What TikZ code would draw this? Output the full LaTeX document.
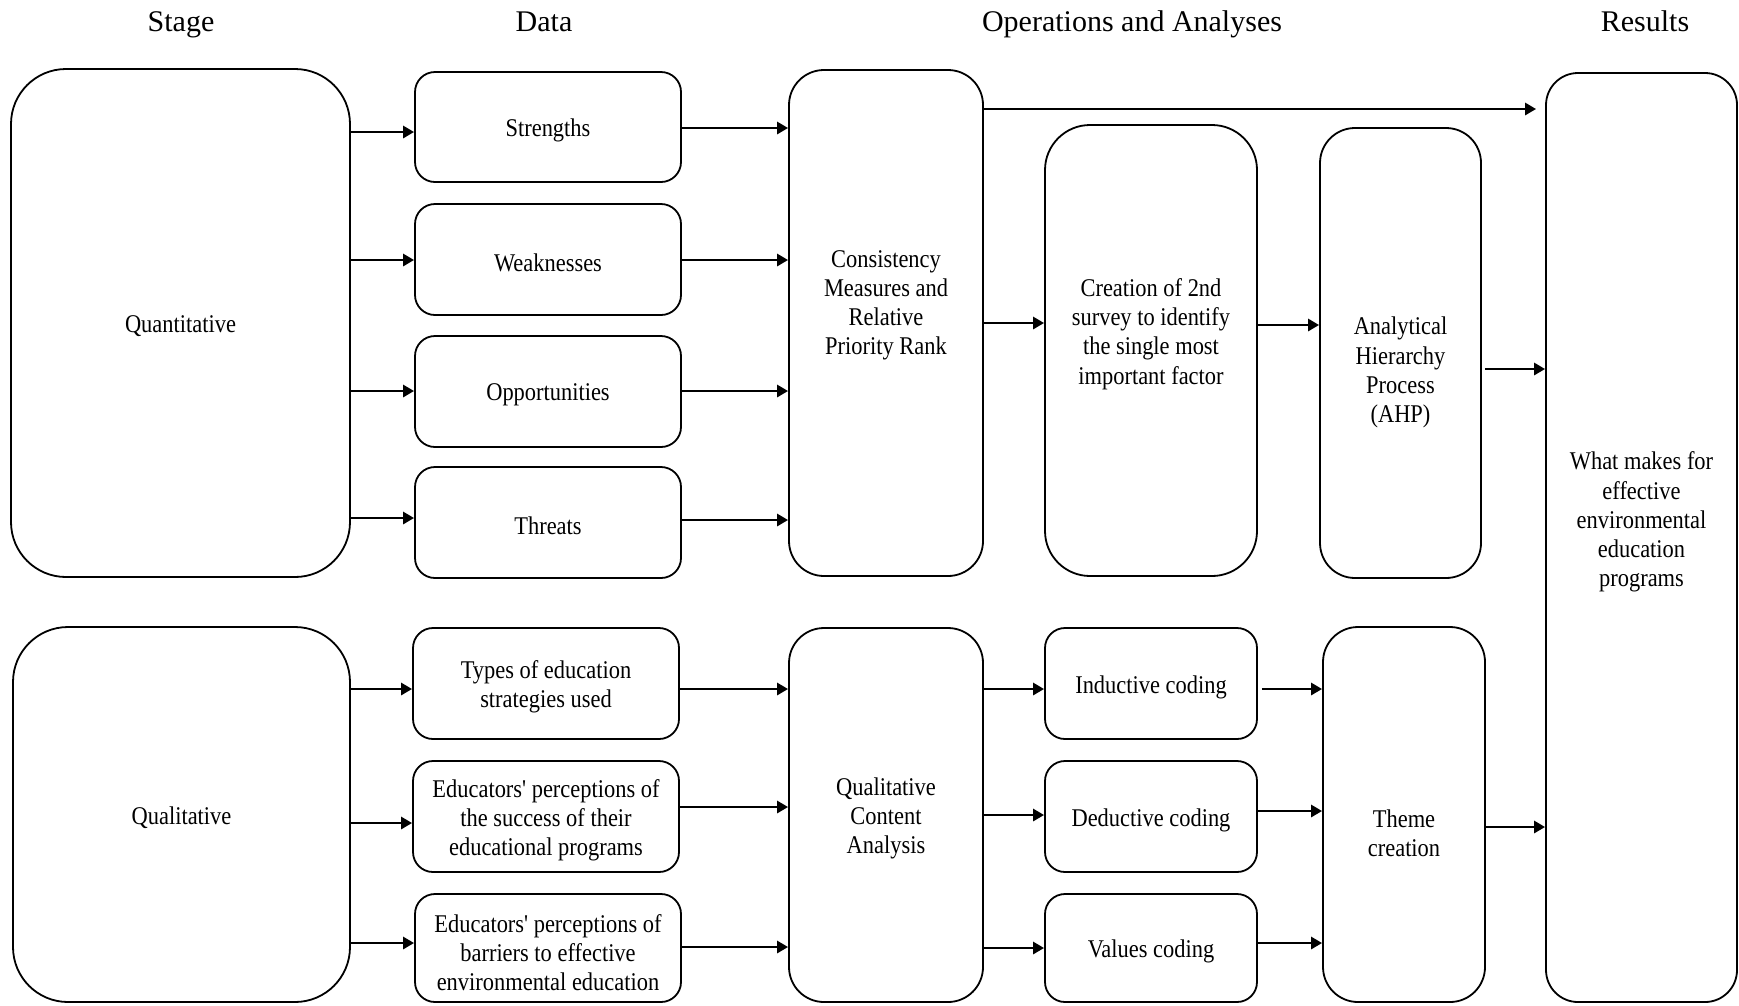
\documentclass[tikz,border=0pt]{standalone}
\usepackage{fontspec}
\setmainfont{Liberation Serif}
\newfontfamily\bodyfont{Liberation Serif}[FakeStretch=0.88]
\usetikzlibrary{arrows.meta}

\tikzset{
  rbox/.style={draw, line width=1.8pt, rounded corners=#1, inner sep=0pt},
  lbl/.style={font=\bodyfont\fontsize{25.5}{29.2}\selectfont, align=center, inner sep=0pt, yshift=-3.5pt},
  head/.style={font=\fontsize{30}{34}\selectfont, anchor=base, inner sep=0pt},
  flow/.style={line width=2.8pt, -{Triangle[length=11pt, width=12pt]}},
}

\begin{document}
\begin{tikzpicture}[x=1pt, y=-1pt]
\useasboundingbox (0,0) rectangle (1739,1005);

% column headings
\node[head] (hstage) at (181,31.5) {Stage};
\node[head] (hdata)  at (544,31.5) {Data};
\node[head] (hops)   at (1132,31.5) {Operations and Analyses};
\node[head] (hres)   at (1645,31.5) {Results};

% stage boxes
\node[rbox=55pt, minimum width=339pt, minimum height=508pt] (quant) at (180.5,323) {};
\node[lbl] at (quant.center) {Quantitative};
\node[rbox=55pt, minimum width=337pt, minimum height=375pt] (qual) at (181.5,814.5) {};
\node[lbl] at (qual.center) {Qualitative};

% quantitative data
\node[rbox=20pt, minimum width=266pt, minimum height=110pt] (str)  at (548,127)   {};
\node[lbl] at (str.center) {Strengths};
\node[rbox=20pt, minimum width=266pt, minimum height=111pt] (weak) at (548,259.5) {};
\node[lbl] at (weak.center) {Weaknesses};
\node[rbox=20pt, minimum width=266pt, minimum height=111pt] (opp)  at (548,391.5) {};
\node[lbl] at (opp.center) {Opportunities};
\node[rbox=20pt, minimum width=266pt, minimum height=111pt] (thr)  at (548,522.5) {};
\node[lbl] at (thr.center) {Threats};

% qualitative data
\node[rbox=20pt, minimum width=266pt, minimum height=111pt] (types) at (546,683.5) {};
\node[lbl] at (types.center) {Types of education\\strategies used};
\node[rbox=20pt, minimum width=266pt, minimum height=111pt] (succ)  at (546,816.5) {};
\node[lbl] at (succ.center) {Educators' perceptions of\\the success of their\\educational programs};
\node[rbox=20pt, minimum width=266pt, minimum height=108pt] (barr)  at (548,948) {};
\node[lbl] at ([yshift=-1pt]barr.center) {Educators' perceptions of\\barriers to effective\\environmental education};

% operations and analyses, quantitative branch
\node[rbox=35pt, minimum width=194pt, minimum height=506pt] (cons) at (886,323) {};
\node[lbl] at ([yshift=21pt]cons.center) {Consistency\\Measures and\\Relative\\Priority Rank};
\node[rbox=45pt, minimum width=212pt, minimum height=451pt] (crea) at (1151,350.5) {};
\node[lbl] at ([yshift=20pt]crea.center) {Creation of 2nd\\survey to identify\\the single most\\important factor};
\node[rbox=35pt, minimum width=161pt, minimum height=450pt] (ahp) at (1400.5,353) {};
\node[lbl] at ([yshift=-16pt]ahp.center) {Analytical\\Hierarchy\\Process\\(AHP)};

% operations and analyses, qualitative branch
\node[rbox=35pt, minimum width=194pt, minimum height=374pt] (qca) at (886,815) {};
\node[lbl] at (qca.center) {Qualitative\\Content\\Analysis};
\node[rbox=20pt, minimum width=212pt, minimum height=111pt] (ind) at (1151,683.5) {};
\node[lbl] at (ind.center) {Inductive coding};
\node[rbox=20pt, minimum width=212pt, minimum height=111pt] (ded) at (1151,816.5) {};
\node[lbl] at (ded.center) {Deductive coding};
\node[rbox=20pt, minimum width=212pt, minimum height=108pt] (val) at (1151,948) {};
\node[lbl] at (val.center) {Values coding};
\node[rbox=35pt, minimum width=162pt, minimum height=375pt] (theme) at (1404,814.5) {};
\node[lbl] at ([yshift=-15pt]theme.center) {Theme\\creation};

% results
\node[rbox=32pt, minimum width=191pt, minimum height=929pt] (res) at (1641.5,537.5) {};
\node[lbl] at ([yshift=19pt]res.center) {What makes for\\effective\\environmental\\education\\programs};

% stage -> data
\draw[flow] (quant.east |- 0,132) -- (str.west  |- 0,132);
\draw[flow] (quant.east |- 0,260) -- (weak.west |- 0,260);
\draw[flow] (quant.east |- 0,391) -- (opp.west  |- 0,391);
\draw[flow] (quant.east |- 0,518) -- (thr.west  |- 0,518);
\draw[flow] (qual.east |- 0,689) -- (types.west |- 0,689);
\draw[flow] (qual.east |- 0,823) -- (succ.west  |- 0,823);
\draw[flow] (qual.east |- 0,943) -- (barr.west  |- 0,943);

% data -> analyses
\draw[flow] (str.east  |- 0,128) -- (cons.west |- 0,128);
\draw[flow] (weak.east |- 0,260) -- (cons.west |- 0,260);
\draw[flow] (opp.east  |- 0,391) -- (cons.west |- 0,391);
\draw[flow] (thr.east  |- 0,520) -- (cons.west |- 0,520);
\draw[flow] (types.east |- 0,689) -- (qca.west |- 0,689);
\draw[flow] (succ.east  |- 0,807) -- (qca.west |- 0,807);
\draw[flow] (barr.east  |- 0,947) -- (qca.west |- 0,947);

% quantitative chain
\draw[flow, shorten >=9pt] (cons.east |- 0,109) -- (res.west |- 0,109);
\draw[flow] (cons.east |- 0,323) -- (crea.west |- 0,323);
\draw[flow] (crea.east |- 0,325) -- (ahp.west |- 0,325);
\draw[flow, shorten <=3pt] (ahp.east |- 0,369) -- (res.west |- 0,369);

% qualitative chain
\draw[flow] (qca.east |- 0,689) -- (ind.west |- 0,689);
\draw[flow] (qca.east |- 0,815) -- (ded.west |- 0,815);
\draw[flow] (qca.east |- 0,948) -- (val.west |- 0,948);
\draw[flow, shorten <=4pt] (ind.east |- 0,689) -- (theme.west |- 0,689);
\draw[flow] (ded.east |- 0,811) -- (theme.west |- 0,811);
\draw[flow] (val.east |- 0,943) -- (theme.west |- 0,943);
\draw[flow] (theme.east |- 0,827) -- (res.west |- 0,827);

\end{tikzpicture}
\end{document}
